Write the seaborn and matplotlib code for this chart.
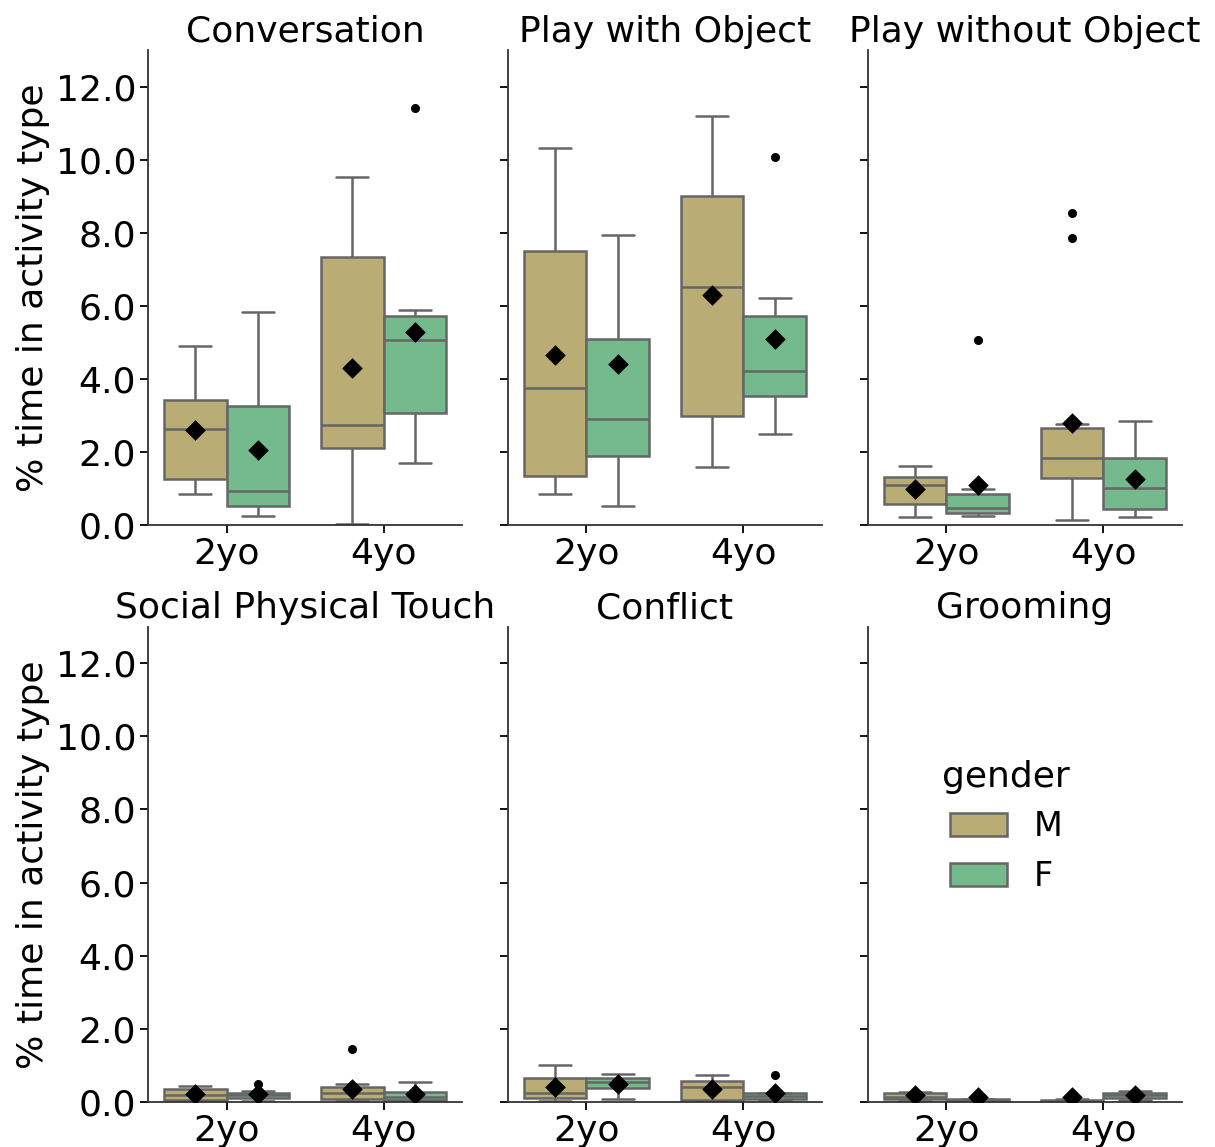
import matplotlib
matplotlib.use("Agg")
import matplotlib.pyplot as plt
import pandas as pd
import seaborn as sns

activities = ["Conversation", "Play with Object", "Play without Object",
              "Social Physical Touch", "Conflict", "Grooming"]
ages = ["2yo", "4yo"]
genders = ["M", "F"]
# Each activity holds four samples, in the order
# (2yo, M), (2yo, F), (4yo, M), (4yo, F)
groups = [("2yo", "M"), ("2yo", "F"), ("4yo", "M"), ("4yo", "F")]

conversation = [
    [0.85, 1.26, 2.64, 3.43, 4.91],
    [0.25, 0.52, 0.93, 3.27, 5.85],
    [0.05, 2.11, 2.75, 7.33, 9.53],
    [1.70, 2.40, 3.08, 4.20, 5.08, 5.40, 5.74, 5.90, 11.42],
]
play_with_object = [
    [0.85, 1.35, 3.76, 7.50, 10.32],
    [0.52, 1.89, 2.91, 5.11, 7.94],
    [1.59, 2.99, 6.51, 9.00, 11.20],
    [2.50, 3.00, 3.54, 3.90, 4.23, 5.00, 5.74, 6.23, 10.08],
]
play_without_object = [
    [0.22, 0.60, 1.10, 1.32, 1.62],
    [0.27, 0.30, 0.33, 0.40, 0.49, 0.65, 0.85, 0.99, 5.08],
    [0.14, 0.80, 1.10, 1.29, 1.50, 1.70, 1.84, 2.20, 2.50, 2.66, 2.77, 7.85, 8.54],
    [0.22, 0.44, 1.02, 1.84, 2.86],
]
social_touch = [
    [0.02, 0.05, 0.19, 0.36, 0.44],
    [0.04, 0.08, 0.12, 0.15, 0.18, 0.22, 0.26, 0.30, 0.50],
    [0.02, 0.05, 0.09, 0.18, 0.26, 0.33, 0.41, 0.48, 1.45],
    [0.02, 0.05, 0.13, 0.28, 0.56],
]
conflict = [
    [0.04, 0.11, 0.25, 0.66, 1.01],
    [0.09, 0.38, 0.55, 0.66, 0.76],
    [0.04, 0.06, 0.40, 0.57, 0.73],
    [0.05, 0.07, 0.09, 0.12, 0.16, 0.20, 0.24, 0.25, 0.73],
]
grooming = [
    [0.03, 0.08, 0.15, 0.24, 0.28],
    [0.03, 0.05, 0.06, 0.07, 0.09],
    [0.01, 0.02, 0.03, 0.05, 0.07],
    [0.06, 0.11, 0.18, 0.26, 0.31],
]

# Group means, same order as the samples
conversation_means = [2.61, 2.06, 4.31, 5.30]
play_with_object_means = [4.67, 4.42, 6.29, 5.11]
play_without_object_means = [0.99, 1.12, 2.80, 1.26]
social_touch_means = [0.22, 0.22, 0.36, 0.22]
conflict_means = [0.41, 0.48, 0.35, 0.26]
grooming_means = [0.18, 0.15, 0.15, 0.18]

samples = [conversation, play_with_object, play_without_object,
           social_touch, conflict, grooming]
means = [conversation_means, play_with_object_means, play_without_object_means,
         social_touch_means, conflict_means, grooming_means]

rows, mean_rows = [], []
for act, act_samples, act_means in zip(activities, samples, means):
    for (age, gender), values, mu in zip(groups, act_samples, act_means):
        for v in values:
            rows.append({"activity": act, "age": age, "gender": gender, "pct": v})
        mean_rows.append({"activity": act, "age": age, "gender": gender, "mean": mu})
df = pd.DataFrame(rows)
df_means = pd.DataFrame(mean_rows)

sns.set_theme(style="ticks")
plt.rcParams.update({
    "font.family": ["DejaVu Sans"],
    "text.color": "black",
    "axes.labelcolor": "black",
    "xtick.color": "black",
    "ytick.color": "black",
    "axes.linewidth": 1.3,
    "xtick.major.width": 1.3,
    "ytick.major.width": 1.3,
    "xtick.major.size": 6,
    "ytick.major.size": 6,
    "axes.edgecolor": "#333333",
})

palette = {"M": "#b9ac74", "F": "#75ba8d"}
black = {"M": "black", "F": "black"}
fs = 26

fig, axes = plt.subplots(2, 3, figsize=(12.15, 11.47), dpi=100, sharey=True)
fig.subplots_adjust(left=0.1218, right=0.9728, bottom=0.0392, top=0.9564,
                    wspace=0.146, hspace=0.2126)

for i, (ax, act) in enumerate(zip(axes.flat, activities)):
    d = df[df["activity"] == act]
    m = df_means[df_means["activity"] == act]
    sns.boxplot(data=d, x="age", y="pct", hue="gender", order=ages,
                hue_order=genders, palette=palette, saturation=1,
                linecolor="#666666", linewidth=1.8,
                flierprops=dict(marker="o", markerfacecolor="black",
                                markeredgecolor="black", markersize=5.5),
                legend=(act == "Grooming"), ax=ax)
    sns.stripplot(data=m, x="age", y="mean", hue="gender", order=ages,
                  hue_order=genders, palette=black, dodge=True, jitter=False,
                  marker="D", size=10.5, linewidth=0, legend=False, zorder=5,
                  ax=ax)
    ax.set_title(act, fontsize=fs)
    ax.set_xlabel("")
    ax.set_ylabel("% time in activity type" if i % 3 == 0 else "", fontsize=fs)
    ax.set_ylim(0, 13)
    ax.set_yticks([0, 2, 4, 6, 8, 10, 12])
    ax.set_yticklabels([f"{t:.1f}" for t in [0, 2, 4, 6, 8, 10, 12]])
    ax.tick_params(labelsize=fs, pad=2.5)
    ax.set_xlim(-0.5, 1.5)

sns.despine(fig)
sns.move_legend(axes[1, 2], "center", bbox_to_anchor=(0.44, 0.58),
                frameon=False, title="gender", fontsize=fs - 2,
                title_fontsize=fs, handlelength=1.7)

fig.savefig("out.png", dpi=100)
